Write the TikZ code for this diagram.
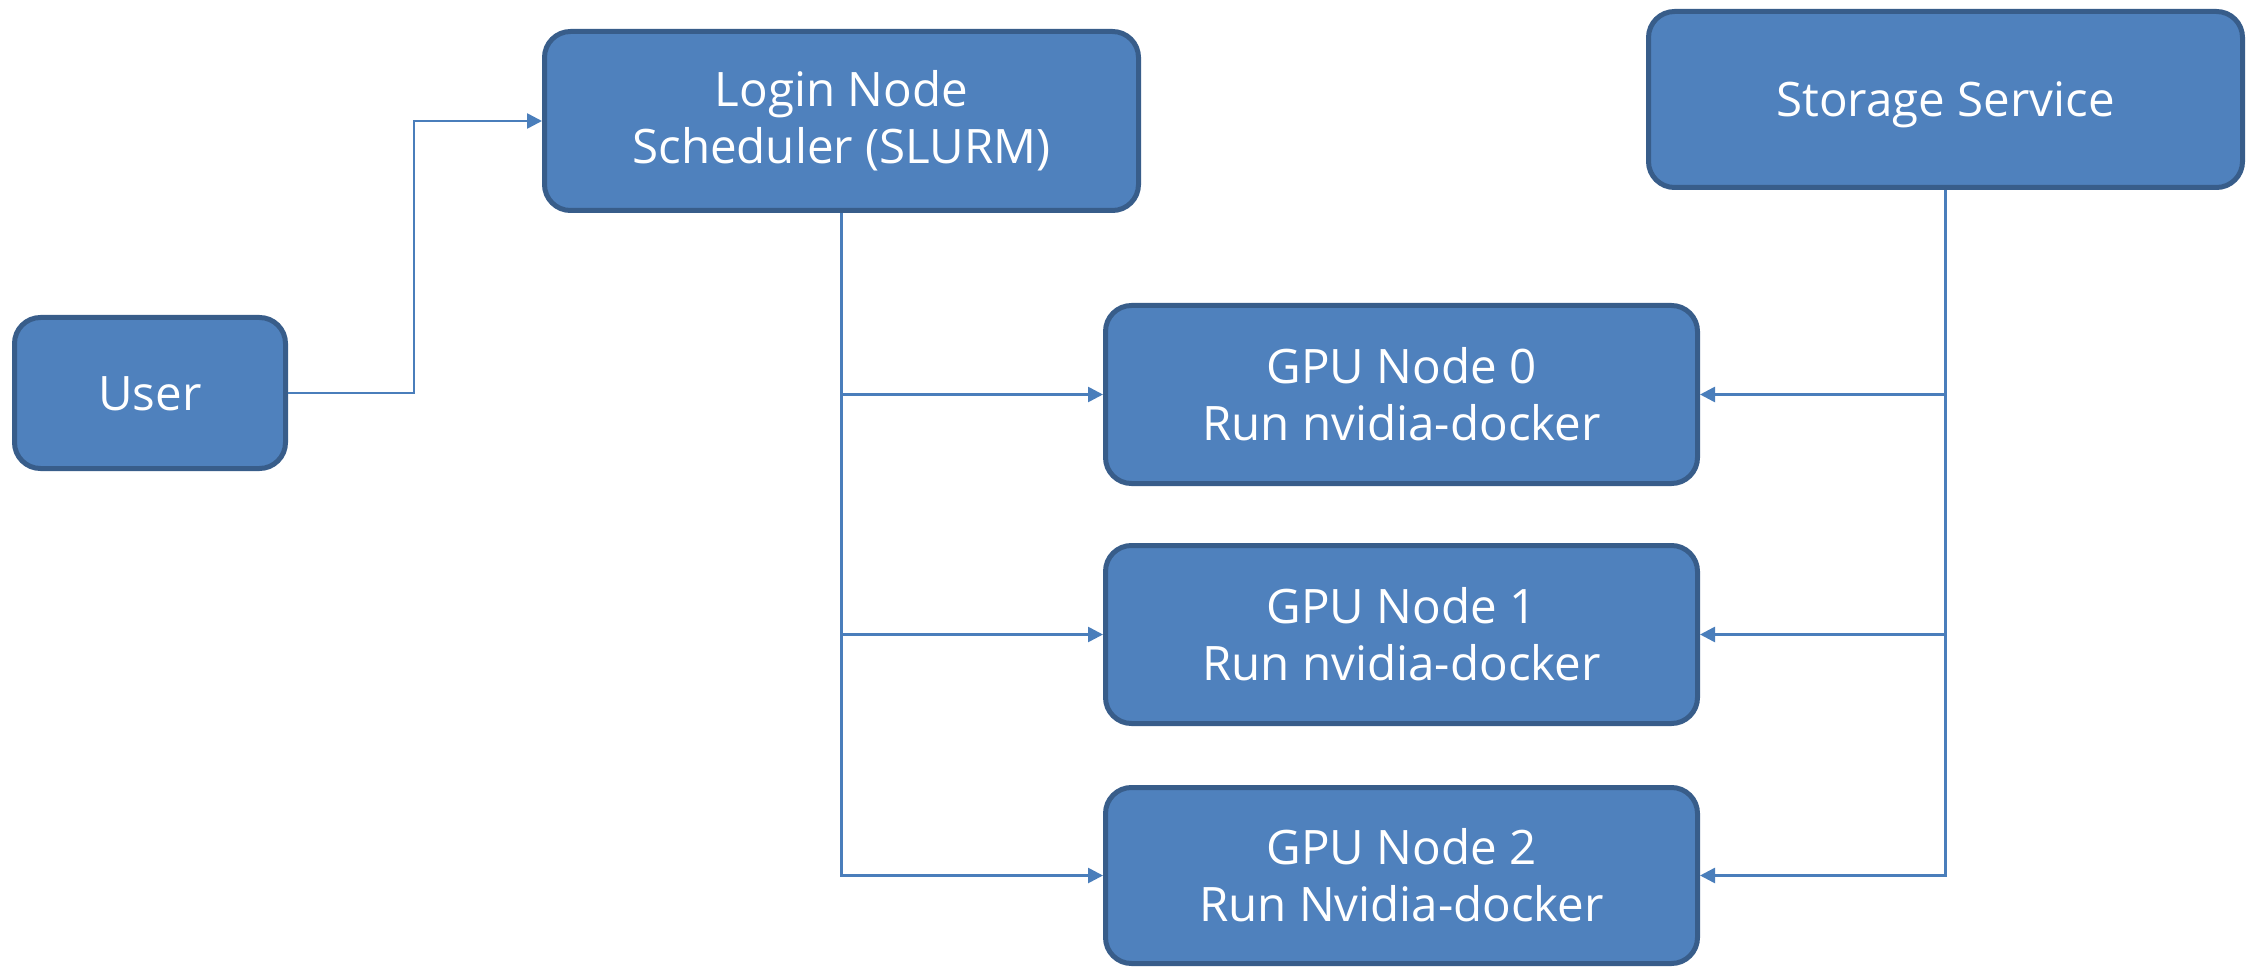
\documentclass[tikz,border=0pt]{standalone}
\usepackage{fontspec}
\setmainfont{Open Sans}
\usetikzlibrary{arrows.meta}
\definecolor{boxfill}{HTML}{4F81BD}
\definecolor{boxline}{HTML}{385D8A}
\definecolor{connline}{HTML}{4A7EBB}
\begin{document}
\begin{tikzpicture}[x=1pt,y=-1pt,
  blk/.style={draw=boxline, fill=boxfill, line width=5pt, rounded corners=26pt,
    text=white, align=center, inner sep=0pt,
    font=\fontsize{47.5}{57}\selectfont},
  oneline/.style={text height=34pt, text depth=0pt},
  conn/.style={draw=connline, line width=2.6pt, -{Triangle[length=15pt,width=15pt]}}
]
\path[use as bounding box, fill=white] (0,0) rectangle (2254,968);
\node[blk, oneline, minimum width=271pt, minimum height=151pt] (user) at (150,393) {User};
\node[blk, minimum width=594pt, minimum height=179pt] (login) at (841.5,121) {Login Node\\Scheduler (SLURM)};
\node[blk, oneline, minimum width=594pt, minimum height=176pt] (storage) at (1945.5,99.5) {Storage Service};
\node[blk, minimum width=592pt, minimum height=178pt] (gpu0) at (1401.5,394.5) {GPU Node 0\\Run nvidia-docker};
\node[blk, minimum width=592pt, minimum height=178pt] (gpu1) at (1401.5,634.5) {GPU Node 1\\Run nvidia-docker};
\node[blk, minimum width=592pt, minimum height=176pt] (gpu2) at (1401.5,875.5) {GPU Node 2\\Run Nvidia-docker};
\coordinate (ujog) at (414,0);
\draw[conn] (user.east) -| (ujog |- login.west) -- (login.west);
\draw[conn] (login.south) |- (gpu0.west);
\draw[conn] (login.south) |- (gpu1.west);
\draw[conn] (login.south) |- (gpu2.west);
\draw[conn] (storage.south) |- (gpu0.east);
\draw[conn] (storage.south) |- (gpu1.east);
\draw[conn] (storage.south) |- (gpu2.east);
\end{tikzpicture}
\end{document}
